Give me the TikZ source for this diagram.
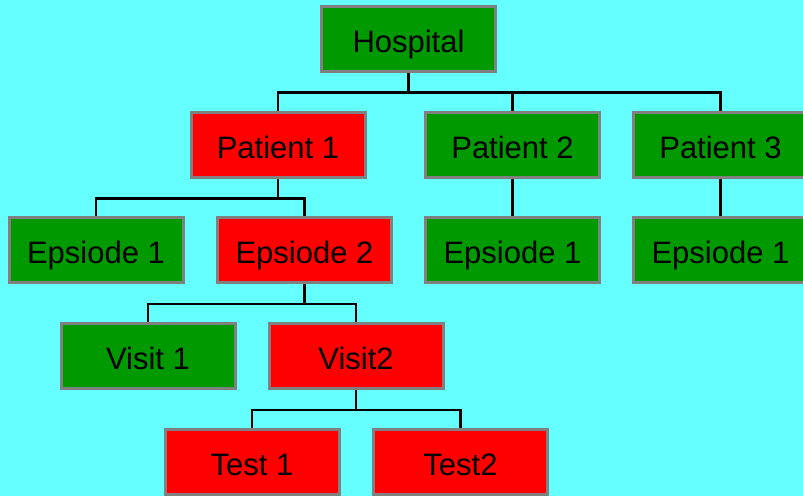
\documentclass[tikz,border=0pt]{standalone}
\usepackage{fontspec}
\setmainfont{Liberation Sans}
\definecolor{bgcyan}{HTML}{66FFFF}
\definecolor{boxgreen}{HTML}{009900}
\definecolor{boxred}{HTML}{FF0000}
\definecolor{boxborder}{HTML}{808080}
\tikzset{
  box/.style={draw=boxborder, line width=3pt, minimum width=174pt, minimum height=65pt,
    inner sep=0pt, text height=26pt, text depth=0pt,
    font=\fontsize{31}{36}\selectfont, text=black},
  gbox/.style={box, fill=boxgreen},
  rbox/.style={box, fill=boxred},
  link/.style={draw=black, line width=2.5pt}
}
\begin{document}
\begin{tikzpicture}[x=1pt,y=-1pt]
\fill[bgcyan] (0,0) rectangle (803,496);
\useasboundingbox (0,0) rectangle (803,496);
\node[gbox] (hosp) at (408.5,39) {Hospital};
\node[rbox] (p1) at (278,145) {Patient 1};
\node[gbox] (p2) at (512.5,145) {Patient 2};
\node[gbox] (p3) at (720.5,145) {Patient 3};
\node[gbox] (e1) at (96,250) {Epsiode 1};
\node[rbox] (e2) at (304.5,250) {Epsiode 2};
\node[gbox] (e3) at (512.5,250) {Epsiode 1};
\node[gbox] (e4) at (720.5,250) {Epsiode 1};
\node[gbox] (v1) at (148,356) {Visit 1};
\node[rbox] (v2) at (356,356) {Visit2};
\node[rbox] (t1) at (252,462) {Test 1};
\node[rbox] (t2) at (460.5,462) {Test2};
% connectors
\draw[link] (hosp.south) -- ++(0,19.5) coordinate (hb);
\draw[link] (hb) -| (p1.north);
\draw[link] (hb) -| (p2.north);
\draw[link] (hb) -| (p3.north);
\draw[link] (p1.south) -- ++(0,19.5) coordinate (pb);
\draw[link] (pb) -| (e1.north);
\draw[link] (pb) -| (e2.north);
\draw[link] (p2.south) -- (e3.north);
\draw[link] (p3.south) -- (e4.north);
\draw[link] (e2.south) -- ++(0,20) coordinate (eb);
\draw[link] (eb) -| (v1.north);
\draw[link] (eb) -| (v2.north);
\draw[link] (v2.south) -- ++(0,20) coordinate (vb);
\draw[link] (vb) -| (t1.north);
\draw[link] (vb) -| (t2.north);
\end{tikzpicture}
\end{document}
